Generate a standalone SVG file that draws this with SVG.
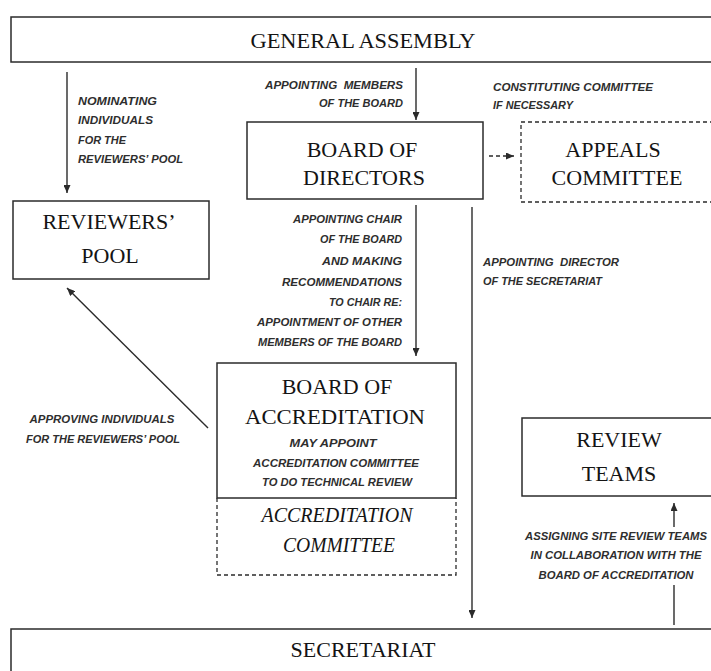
<svg xmlns="http://www.w3.org/2000/svg" width="711" height="671" viewBox="0 0 711 671">
  <style>
    .box { fill: #ffffff; stroke: #2b2b2b; stroke-width: 1.5; }
    .dash { fill: none; stroke: #2b2b2b; stroke-width: 1.3; stroke-dasharray: 4 3; }
    .title { font-family: "Liberation Serif", "Times New Roman", serif; font-size: 22px; fill: #141414; text-anchor: middle; }
    .title-it { font-family: "Liberation Serif", "Times New Roman", serif; font-size: 22px; font-style: italic; fill: #141414; text-anchor: middle; }
    .lbl { font-family: "Liberation Sans", Arial, sans-serif; font-size: 11px; font-style: italic; font-weight: bold; fill: #2e2e2e; white-space: pre; }
    .mid { text-anchor: middle; }
    .end { text-anchor: end; }
    .edge { fill: none; stroke: #2b2b2b; stroke-width: 1.4; }
    .edge-d { fill: none; stroke: #2b2b2b; stroke-width: 1.4; stroke-dasharray: 4 3; }
  </style>
  <defs>
    <marker id="arrow" markerUnits="userSpaceOnUse" markerWidth="8" markerHeight="7" refX="8" refY="3.5" orient="auto">
      <path d="M0,0 L8,3.5 L0,7 Z" fill="#2b2b2b"/>
    </marker>
  </defs>

  <rect width="711" height="671" fill="#ffffff"/>

  <!-- nodes -->
  <g id="general-assembly">
    <rect class="box" x="11" y="17" width="705" height="45"/>
    <text class="title" x="363" y="48" textLength="225" lengthAdjust="spacingAndGlyphs">GENERAL ASSEMBLY</text>
  </g>

  <g id="board-of-directors">
    <rect class="box" x="247" y="122" width="236" height="77"/>
    <text class="title" x="362" y="157">BOARD OF</text>
    <text class="title" x="364" y="185">DIRECTORS</text>
  </g>

  <g id="appeals-committee">
    <rect class="dash" x="521" y="122" width="200" height="80"/>
    <text class="title" x="613" y="157">APPEALS</text>
    <text class="title" x="617" y="185">COMMITTEE</text>
  </g>

  <g id="reviewers-pool">
    <rect class="box" x="13" y="201" width="196" height="78"/>
    <text class="title" x="109" y="229">REVIEWERS’</text>
    <text class="title" x="110" y="263">POOL</text>
  </g>

  <g id="board-of-accreditation">
    <rect class="box" x="217" y="363" width="239" height="135"/>
    <text class="title" x="337" y="394">BOARD OF</text>
    <text class="title" x="335" y="424" textLength="180" lengthAdjust="spacingAndGlyphs">ACCREDITATION</text>
    <text class="lbl mid" x="333" y="447" textLength="87" lengthAdjust="spacingAndGlyphs">MAY APPOINT</text>
    <text class="lbl mid" x="336" y="467" textLength="166" lengthAdjust="spacingAndGlyphs">ACCREDITATION COMMITTEE</text>
    <text class="lbl mid" x="337" y="486" textLength="150" lengthAdjust="spacingAndGlyphs">TO DO TECHNICAL REVIEW</text>
  </g>

  <g id="accreditation-committee">
    <path class="dash" d="M217,498 V575 H456 V498"/>
    <text class="title-it" x="337" y="522" textLength="151" lengthAdjust="spacingAndGlyphs">ACCREDITATION</text>
    <text class="title-it" x="339" y="552" textLength="112" lengthAdjust="spacingAndGlyphs">COMMITTEE</text>
  </g>

  <g id="review-teams">
    <rect class="box" x="522" y="418" width="200" height="78"/>
    <text class="title" x="619" y="447">REVIEW</text>
    <text class="title" x="619" y="481">TEAMS</text>
  </g>

  <g id="secretariat">
    <rect class="box" x="11" y="629" width="705" height="50"/>
    <text class="title" x="363" y="657">SECRETARIAT</text>
  </g>

  <!-- connectors -->
  <g id="connectors">
    <line class="edge" x1="67" y1="72" x2="67" y2="193" marker-end="url(#arrow)"/>
    <line class="edge" x1="416" y1="68" x2="416" y2="120" marker-end="url(#arrow)"/>
    <line class="edge-d" x1="489" y1="156" x2="514" y2="156" marker-end="url(#arrow)"/>
    <line class="edge" x1="416" y1="205" x2="416" y2="356" marker-end="url(#arrow)"/>
    <line class="edge" x1="472" y1="207" x2="472" y2="618" marker-end="url(#arrow)"/>
    <line class="edge" x1="208" y1="428" x2="67" y2="288" marker-end="url(#arrow)"/>
    <line class="edge" x1="674" y1="625" x2="674" y2="585"/>
    <line class="edge" x1="674" y1="527" x2="674" y2="503" marker-end="url(#arrow)"/>

    <!-- connector labels -->
    <text class="lbl" x="78" y="105" textLength="79" lengthAdjust="spacingAndGlyphs">NOMINATING</text>
    <text class="lbl" x="78" y="124" textLength="75" lengthAdjust="spacingAndGlyphs">INDIVIDUALS</text>
    <text class="lbl" x="78" y="144" textLength="48" lengthAdjust="spacingAndGlyphs">FOR THE</text>
    <text class="lbl" x="78" y="163" textLength="105" lengthAdjust="spacingAndGlyphs">REVIEWERS’ POOL</text>

    <text class="lbl end" x="403" y="89" textLength="138" lengthAdjust="spacingAndGlyphs">APPOINTING  MEMBERS</text>
    <text class="lbl end" x="403" y="107" textLength="84" lengthAdjust="spacingAndGlyphs">OF THE BOARD</text>

    <text class="lbl" x="493" y="91" textLength="160" lengthAdjust="spacingAndGlyphs">CONSTITUTING COMMITTEE</text>
    <text class="lbl" x="493" y="109" textLength="80" lengthAdjust="spacingAndGlyphs">IF NECESSARY</text>

    <text class="lbl end" x="402" y="223" textLength="109" lengthAdjust="spacingAndGlyphs">APPOINTING CHAIR</text>
    <text class="lbl end" x="402" y="243" textLength="82" lengthAdjust="spacingAndGlyphs">OF THE BOARD</text>
    <text class="lbl end" x="402" y="265" textLength="80" lengthAdjust="spacingAndGlyphs">AND MAKING</text>
    <text class="lbl end" x="402" y="286" textLength="120" lengthAdjust="spacingAndGlyphs">RECOMMENDATIONS</text>
    <text class="lbl end" x="402" y="306" textLength="73" lengthAdjust="spacingAndGlyphs">TO CHAIR RE:</text>
    <text class="lbl end" x="402" y="326" textLength="145" lengthAdjust="spacingAndGlyphs">APPOINTMENT OF OTHER</text>
    <text class="lbl end" x="402" y="346" textLength="144" lengthAdjust="spacingAndGlyphs">MEMBERS OF THE BOARD</text>

    <text class="lbl" x="483" y="266" textLength="136" lengthAdjust="spacingAndGlyphs">APPOINTING  DIRECTOR</text>
    <text class="lbl" x="483" y="285" textLength="119" lengthAdjust="spacingAndGlyphs">OF THE SECRETARIAT</text>

    <text class="lbl mid" x="102" y="423" textLength="145" lengthAdjust="spacingAndGlyphs">APPROVING INDIVIDUALS</text>
    <text class="lbl mid" x="103" y="443" textLength="154" lengthAdjust="spacingAndGlyphs">FOR THE REVIEWERS’ POOL</text>

    <text class="lbl mid" x="616" y="540" textLength="182" lengthAdjust="spacingAndGlyphs">ASSIGNING SITE REVIEW TEAMS</text>
    <text class="lbl mid" x="616" y="559" textLength="171" lengthAdjust="spacingAndGlyphs">IN COLLABORATION WITH THE</text>
    <text class="lbl mid" x="616" y="579" textLength="155" lengthAdjust="spacingAndGlyphs">BOARD OF ACCREDITATION</text>
  </g>
</svg>
